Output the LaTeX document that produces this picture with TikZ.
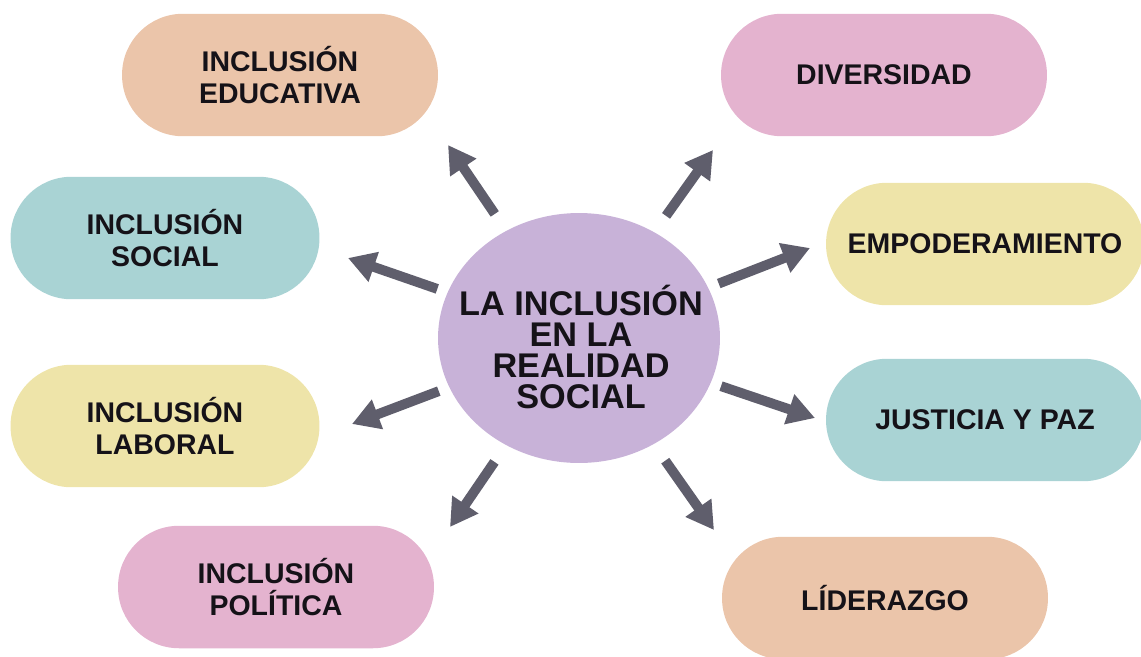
\documentclass[tikz,border=0pt]{standalone}
\usepackage{fontspec}
\setmainfont{Liberation Sans}
\usepackage{xcolor}
\usepackage{tikz}
\usetikzlibrary{shapes.geometric,arrows.meta}

\definecolor{peach}{HTML}{EBC5AA}
\definecolor{rosa}{HTML}{E4B3CF}
\definecolor{aqua}{HTML}{A9D3D4}
\definecolor{crema}{HTML}{EEE4A9}
\definecolor{lila}{HTML}{C8B2D8}
\definecolor{flecha}{HTML}{5F5E6C}
\definecolor{tinta}{HTML}{151218}

\tikzset{
  pill/.style={rectangle, rounded corners=1.22cm, minimum width=6.3cm,
    minimum height=2.45cm, align=center, text=tinta,
    font=\bfseries\fontsize{16.2}{18.1}\selectfont},
  flechita/.style={flecha, line width=5.6pt, shorten <=3cm,
    -{Triangle[length=15.5pt,width=17pt]}}
}

\begin{document}
\begin{tikzpicture}[x=0.02cm,y=-0.02cm]
\useasboundingbox (0,0) rectangle (1141,656);
% centro
\node[ellipse, fill=lila, minimum width=5.64cm, minimum height=5cm] (ctr) at (579,338) {};
\node[align=center, text=tinta, font=\bfseries\fontsize{19.5}{17.7}\selectfont]
  (ctrtxt) at (581,347) {LA INCLUSIÓN\\EN LA\\REALIDAD\\SOCIAL};
% izquierda
\node[pill, fill=peach, minimum width=6.32cm] (edu) at (280,75) {INCLUSIÓN\\EDUCATIVA};
\node[pill, fill=aqua, minimum width=6.18cm] (soc) at (165,238) {INCLUSIÓN\\SOCIAL};
\node[pill, fill=crema, minimum width=6.18cm] (lab) at (165,426) {INCLUSIÓN\\LABORAL};
\node[pill, fill=rosa, minimum width=6.32cm] (pol) at (276,587) {INCLUSIÓN\\POLÍTICA};
% derecha
\node[pill, fill=rosa, minimum width=6.52cm] (div) at (884,75) {DIVERSIDAD};
\node[pill, fill=crema, minimum width=6.36cm] (emp) at (985,244) {EMPODERAMIENTO};
\node[pill, fill=aqua, minimum width=6.36cm] (jus) at (985,420) {JUSTICIA Y PAZ};
\node[pill, fill=peach, minimum width=6.52cm] (lid) at (885,598) {LÍDERAZGO};
% puntas de las flechas
\coordinate (hEdu) at (448,145);
\coordinate (hDiv) at (713,150);
\coordinate (hSoc) at (348,258);
\coordinate (hEmp) at (810,248);
\coordinate (hLab) at (352,424);
\coordinate (hJus) at (815,418);
\coordinate (hPol) at (450,527);
\coordinate (hLid) at (714,530);
\foreach \h in {hEdu,hDiv,hSoc,hEmp,hLab,hJus,hPol,hLid}
  \draw[flechita] (ctr.center) -- (\h);
\end{tikzpicture}
\end{document}
